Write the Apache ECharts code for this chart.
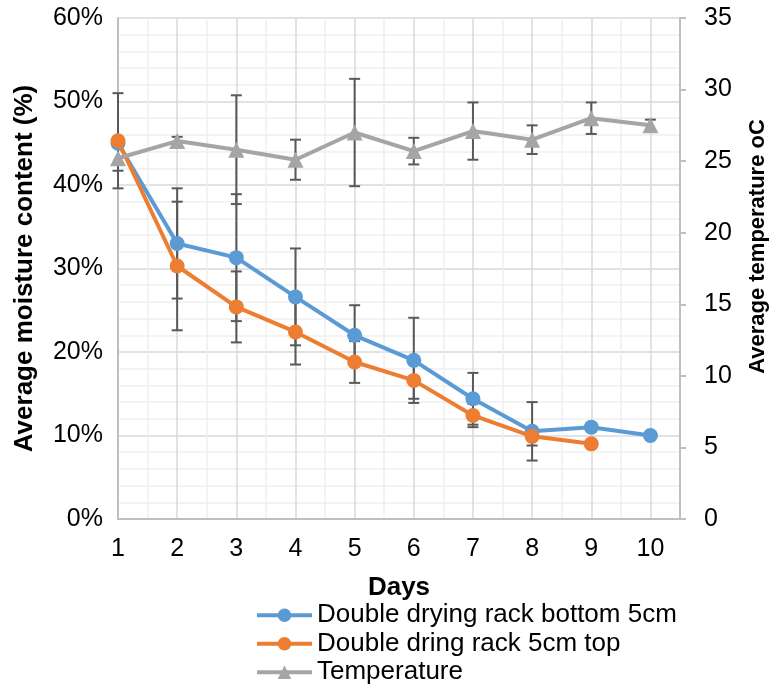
<!DOCTYPE html>
<html>
<head>
<meta charset="utf-8">
<script src="https://cdn.jsdelivr.net/npm/echarts@6/dist/echarts.min.js"></script>
<style>
html,body{margin:0;padding:0;background:#fff;}
#main{width:777px;height:690px;}
</style>
</head>
<body>
<div id="main"></div>
<script>
// ---- data ----
const days = [1, 2, 3, 4, 5, 6, 7, 8, 9, 10];
const bottomMoisture = [45.0, 33.0, 31.3, 26.6, 22.0, 19.0, 14.4, 10.5, 11.0, 10.0];
const bottomErr      = [null, 6.6, 7.6, 5.8, 3.6, 5.1, 3.1, 3.5, null, null];
const topMoisture    = [45.3, 30.3, 25.4, 22.4, 18.8, 16.6, 12.4, 9.9, 9.0, null];
const topErr         = [5.7, 7.7, 4.25, 3.9, 2.5, 2.2, 1.4, 1.1, null, null];
const temperature    = [25.2, 26.4, 25.8, 25.1, 27.0, 25.7, 27.1, 26.5, 28.0, 27.5];
const tempErr        = [0.87, 0.3, 3.8, 1.4, 3.75, 0.93, 2.0, 1.0, 1.1, 0.4];
const seriesNames = ['Double drying rack bottom 5cm', 'Double dring rack 5cm top', 'Temperature'];

const FONT = "'Liberation Sans', Arial, sans-serif";

function pairs(vals) {
  return days.map((d, i) => vals[i] == null ? null : [d, vals[i]]).filter(Boolean);
}
function errPairs(vals, errs) {
  return days.map((d, i) => (vals[i] == null || errs[i] == null) ? null : [d, vals[i] - errs[i], vals[i] + errs[i]]).filter(Boolean);
}
function errRender(params, api) {
  const x = api.value(0), lo = api.value(1), hi = api.value(2);
  const p1 = api.coord([x, hi]), p2 = api.coord([x, lo]);
  const w = 5.5;
  const style = { stroke: '#595959', lineWidth: 2 };
  return {
    type: 'group',
    children: [
      { type: 'line', shape: { x1: p1[0], y1: p1[1], x2: p2[0], y2: p2[1] }, style: style },
      { type: 'line', shape: { x1: p1[0] - w, y1: p1[1], x2: p1[0] + w, y2: p1[1] }, style: style },
      { type: 'line', shape: { x1: p2[0] - w, y1: p2[1], x2: p2[0] + w, y2: p2[1] }, style: style }
    ]
  };
}

const chart = echarts.init(document.getElementById('main'), null, { renderer: 'canvas' });
const option = {
  animation: false,
  backgroundColor: '#ffffff',
  textStyle: { fontFamily: FONT },
  grid: { left: 118, right: 91, top: 18, bottom: 171, containLabel: false },
  legend: {
    orient: 'vertical',
    left: 255,
    top: 601,
    padding: 0,
    height: 120,
    data: seriesNames,
    itemWidth: 55,
    itemHeight: 17,
    itemGap: 0,
    lineStyle: { width: 4 },
    textStyle: { fontFamily: FONT, fontSize: 26, color: '#000', lineHeight: 28.5 }
  },
  xAxis: {
    type: 'value',
    min: 1, max: 10.5, interval: 1,
    name: 'Days',
    nameLocation: 'middle',
    nameGap: 56,
    nameTextStyle: { fontFamily: FONT, fontSize: 26, fontWeight: 'bold', color: '#000' },
    axisLine: { show: true, lineStyle: { color: '#bfbfbf', width: 2 } },
    axisTick: { show: false },
    axisLabel: {
      fontFamily: FONT, fontSize: 25, color: '#000', margin: 18,
      formatter: v => Number.isInteger(v) ? String(v) : ''
    },
    splitLine: { show: true, lineStyle: { color: '#d9d9d9', width: 1.5 } },
    minorTick: { show: false, splitNumber: 2 },
    minorSplitLine: { show: true, lineStyle: { color: '#efefef', width: 1.5 } }
  },
  yAxis: [
    {
      type: 'value',
      min: 0, max: 60, interval: 10,
      name: 'Average moisture content (%)',
      nameLocation: 'middle',
      nameRotate: 90,
      nameGap: 80,
      nameTextStyle: { fontFamily: FONT, fontSize: 26, fontWeight: 'bold', color: '#000' },
      axisLine: { show: true, lineStyle: { color: '#bfbfbf', width: 2 } },
      axisTick: { show: false },
      axisLabel: { fontFamily: FONT, fontSize: 25, color: '#000', margin: 15, formatter: '{value}%' },
      splitLine: { show: true, lineStyle: { color: '#d9d9d9', width: 1.5 } },
      minorTick: { show: false, splitNumber: 5 },
      minorSplitLine: { show: true, lineStyle: { color: '#efefef', width: 1.5 } }
    },
    {
      type: 'value',
      min: 0, max: 35, interval: 5,
      position: 'right',
      name: 'Average temperature oC',
      nameLocation: 'middle',
      nameRotate: 90,
      nameGap: 67,
      nameTextStyle: { fontFamily: FONT, fontSize: 22, fontWeight: 'bold', color: '#000', padding: [0, 0, 0, 44] },
      axisLine: { show: true, lineStyle: { color: '#bfbfbf', width: 2 } },
      axisTick: { show: true, length: 6, lineStyle: { color: '#bfbfbf', width: 2 } },
      axisLabel: { fontFamily: FONT, fontSize: 25, color: '#000', margin: 24 },
      splitLine: { show: false }
    }
  ],
  series: [
    {
      name: 'errBottom', type: 'custom', xAxisIndex: 0, yAxisIndex: 0, z: 1,
      renderItem: errRender, data: errPairs(bottomMoisture, bottomErr), encode: { x: 0, y: [1, 2] }
    },
    {
      name: 'errTop', type: 'custom', xAxisIndex: 0, yAxisIndex: 0, z: 1,
      renderItem: errRender, data: errPairs(topMoisture, topErr), encode: { x: 0, y: [1, 2] }
    },
    {
      name: 'errTemp', type: 'custom', xAxisIndex: 0, yAxisIndex: 1, z: 1,
      renderItem: errRender, data: errPairs(temperature, tempErr), encode: { x: 0, y: [1, 2] }
    },
    {
      name: seriesNames[0], type: 'line', yAxisIndex: 0, z: 3,
      data: pairs(bottomMoisture),
      symbol: 'circle', symbolSize: 15,
      lineStyle: { color: '#5B9BD5', width: 4 },
      itemStyle: { color: '#5B9BD5' }
    },
    {
      name: seriesNames[1], type: 'line', yAxisIndex: 0, z: 4,
      data: pairs(topMoisture),
      symbol: 'circle', symbolSize: 15,
      lineStyle: { color: '#ED7D31', width: 4 },
      itemStyle: { color: '#ED7D31' }
    },
    {
      name: seriesNames[2], type: 'line', yAxisIndex: 1, z: 5,
      data: pairs(temperature),
      symbol: 'triangle', symbolSize: 16,
      lineStyle: { color: '#A5A5A5', width: 4 },
      itemStyle: { color: '#A5A5A5' }
    }
  ]
};
chart.setOption(option);
</script>
</body>
</html>
